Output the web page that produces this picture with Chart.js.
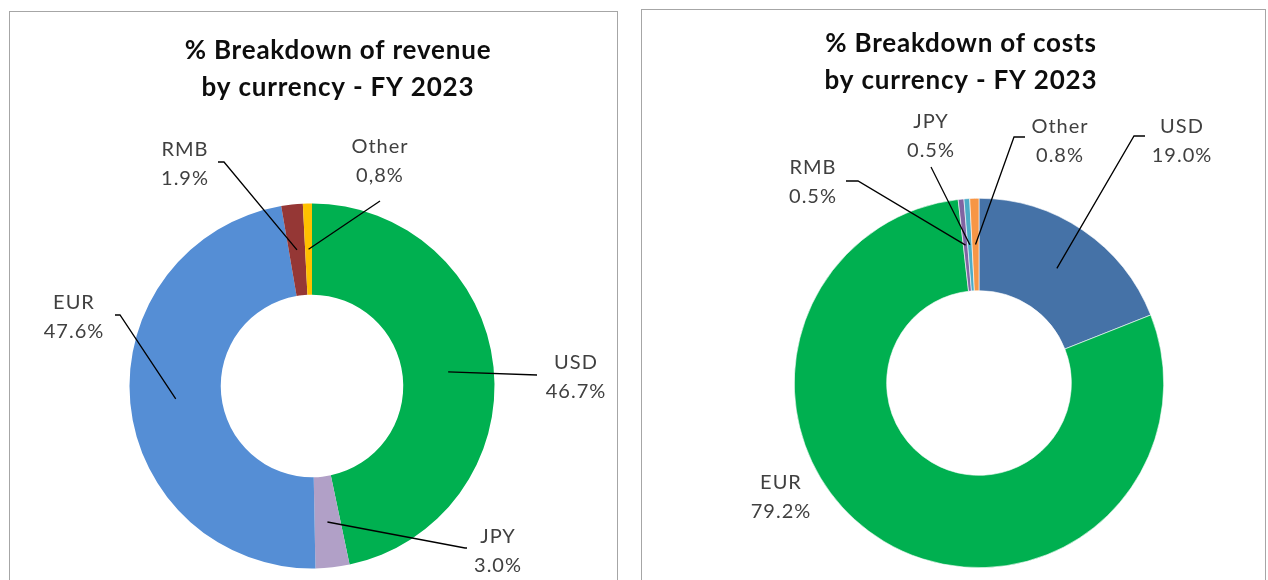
<!DOCTYPE html>
<html>
<head>
<meta charset="utf-8">
<title>Currency breakdown FY 2023</title>
<script src="https://cdn.jsdelivr.net/npm/chart.js@4.4.0/dist/chart.umd.min.js"></script>
<style>
    html, body { margin: 0; padding: 0; background: #ffffff; }
    body { width: 1268px; height: 580px; position: relative; overflow: hidden; }
    .panel { position: absolute; border: 1px solid #a6a6a6; background: #ffffff; }
    #revenuePanel { left: 9px; top: 11px; width: 607px; height: 600px; }
    #costPanel { left: 641px; top: 9px; width: 623px; height: 600px; }
    canvas { position: absolute; left: 0; top: 0; }
</style>
</head>
<body>
<div class="panel" id="revenuePanel"><canvas id="revenueChart" width="606" height="568"></canvas></div>
<div class="panel" id="costPanel"><canvas id="costChart" width="622" height="570"></canvas></div>

<script>
/* ---------- data ---------- */
const revenueTitle = ['% Breakdown of revenue', 'by currency - FY 2023'];
const revenueCategories = ['USD', 'JPY', 'EUR', 'RMB', 'Other'];
const revenueValues = [46.7, 3.0, 47.6, 1.9, 0.8];
const revenueValueLabels = ['46.7%', '3.0%', '47.6%', '1.9%', '0,8%'];

const costTitle = ['% Breakdown of costs', 'by currency - FY 2023'];
const costCategories = ['USD', 'EUR', 'RMB', 'JPY', 'Other'];
const costValues = [19.0, 79.2, 0.5, 0.5, 0.8];
const costValueLabels = ['19.0%', '79.2%', '0.5%', '0.5%', '0.8%'];

/* ---------- styling / layout ---------- */
const revenueColors = ['#00b050', '#b1a0c7', '#558ed5', '#953735', '#ffc000'];
const costColors = ['#4572a7', '#00b050', '#8064a2', '#4bacc6', '#f79646'];

// label centre offsets from the doughnut centre, and leader elbow points
const revenueLabelOffsets = [[264, -9], [186, 165], [-238, -69], [-127, -222], [68, -225]];
const revenueLeaders = [
    [[225, -11]],
    [[155, 162], [153, 162]],
    [[-197, -71], [-192, -71]],
    [[-94, -224], [-88, -224]],
    [[68, -185]]
];
const costLabelOffsets = [[203, -242], [-198, 114], [-166, -201], [-48, -247], [81, -242]];
const costLeaders = [
    [[166, -247], [155, -247]],
    null,
    [[-133, -202], [-121, -202]],
    [[-48, -216]],
    [[46, -246], [35, -246]]
];

const TEXT_FONT = 'Lato, "Open Sans", sans-serif';

const calloutPlugin = {
    id: 'callouts',
    afterDatasetsDraw(chart, args, opts) {
        const ctx = chart.ctx;
        const meta = chart.getDatasetMeta(0);

        ctx.save();
        // title
        ctx.fillStyle = '#0d0d0d';
        ctx.font = 'bold ' + opts.titleSize + 'px ' + TEXT_FONT;
        ctx.letterSpacing = '0.8px';
        ctx.textAlign = 'center';
        ctx.textBaseline = 'alphabetic';
        opts.title.forEach((line, i) => {
            ctx.fillText(line, opts.titleX, opts.titleY + i * opts.titleGap);
        });

        // leader lines + labels
        ctx.letterSpacing = '1px';
        meta.data.forEach((arc, i) => {
            const p = arc.getProps(['x', 'y', 'startAngle', 'endAngle', 'innerRadius', 'outerRadius'], true);
            const mid = (p.startAngle + p.endAngle) / 2;
            const r = (p.innerRadius + p.outerRadius) / 2;
            const ax = p.x + Math.cos(mid) * r;
            const ay = p.y + Math.sin(mid) * r;

            const leader = opts.leaders[i];
            if (leader) {
                ctx.strokeStyle = '#000000';
                ctx.lineWidth = 1.3;
                ctx.beginPath();
                leader.forEach((pt, k) => {
                    if (k === 0) ctx.moveTo(p.x + pt[0], p.y + pt[1]);
                    else ctx.lineTo(p.x + pt[0], p.y + pt[1]);
                });
                ctx.lineTo(ax, ay);
                ctx.stroke();
            }

            const off = opts.offsets[i];
            const lx = p.x + off[0];
            const ly = p.y + off[1];
            ctx.fillStyle = '#404040';
            ctx.font = opts.labelSize + 'px ' + TEXT_FONT;
            ctx.fillText(chart.data.labels[i], lx, ly - 8);
            ctx.fillText(opts.valueLabels[i], lx, ly + 21);
        });
        ctx.restore();
    }
};

function buildChart(canvasId, cfg) {
    return new Chart(document.getElementById(canvasId), {
        type: 'doughnut',
        data: {
            labels: cfg.categories,
            datasets: [{
                data: cfg.values,
                backgroundColor: cfg.colors,
                borderColor: '#ffffff',
                borderWidth: cfg.borderWidth,
                hoverOffset: 0
            }]
        },
        options: {
            responsive: false,
            animation: false,
            devicePixelRatio: 1,
            cutout: '50%',
            layout: { padding: cfg.padding },
            plugins: {
                legend: { display: false },
                tooltip: { enabled: false },
                title: { display: false },
                callouts: {
                    title: cfg.title,
                    titleX: cfg.titleX,
                    titleY: cfg.titleY,
                    titleGap: 37,
                    titleSize: 26,
                    labelSize: 20,
                    valueLabels: cfg.valueLabels,
                    offsets: cfg.offsets,
                    leaders: cfg.leaders
                }
            }
        },
        plugins: [calloutPlugin]
    });
}

buildChart('revenueChart', {
    categories: revenueCategories,
    values: revenueValues,
    valueLabels: revenueValueLabels,
    colors: revenueColors,
    borderWidth: 0,
    padding: { top: 191.5, bottom: 11.5, left: 0, right: 2 },
    title: revenueTitle,
    titleX: 328,
    titleY: 47,
    offsets: revenueLabelOffsets,
    leaders: revenueLeaders
});

buildChart('costChart', {
    categories: costCategories,
    values: costValues,
    valueLabels: costValueLabels,
    colors: costColors,
    borderWidth: 0.6,
    padding: { top: 188, bottom: 12, left: 52, right: 0 },
    title: costTitle,
    titleX: 319,
    titleY: 42,
    offsets: costLabelOffsets,
    leaders: costLeaders
});
</script>
</body>
</html>
